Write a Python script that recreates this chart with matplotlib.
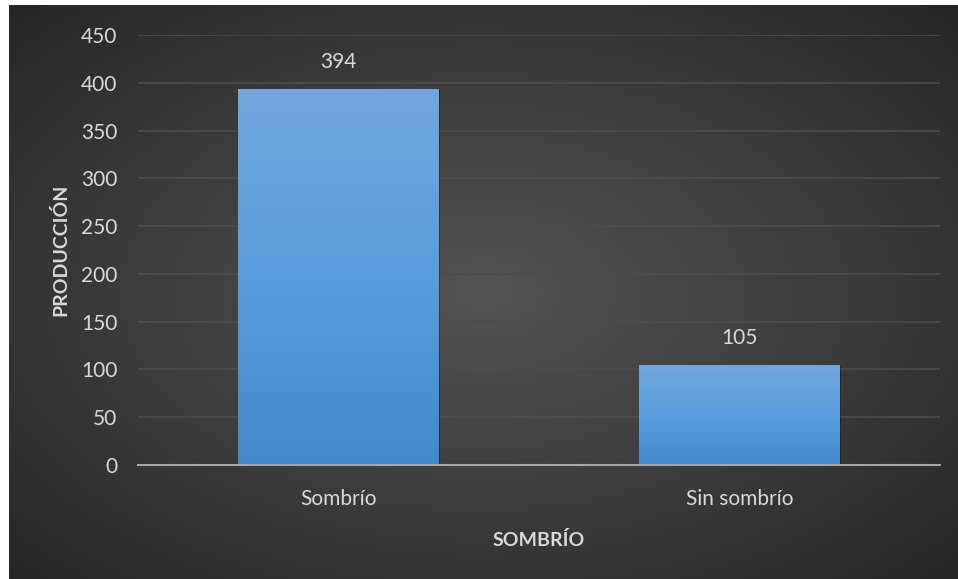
import numpy as np
import matplotlib.pyplot as plt
import matplotlib.patheffects as pe
from matplotlib.colors import LinearSegmentedColormap

plt.rcParams['font.family'] = ['Lato', 'DejaVu Sans']

categorias = ['Sombrío', 'Sin sombrío']
produccion = [394, 105]
ticks_y = [0, 50, 100, 150, 200, 250, 300, 350, 400, 450]

fig = plt.figure(figsize=(9.58, 5.79), dpi=100, facecolor='white')

# fondo oscuro con degradado radial
bg = fig.add_axes([9 / 958, 0, 949 / 958, 574 / 579])
bg.set_axis_off()
yy, xx = np.mgrid[0:1:300j, 0:1:500j]
r = np.sqrt(((xx - 0.5) / 0.75) ** 2 + ((yy - 0.5) / 0.75) ** 2)
fondo = LinearSegmentedColormap.from_list('fondo', ['#545454', '#262626'])
bg.imshow(np.clip(r / 0.95, 0, 1), cmap=fondo, aspect='auto', extent=(0, 1, 0, 1),
          vmin=0, vmax=1, interpolation='bilinear')
bg.set_xlim(0, 1)
bg.set_ylim(0, 1)

ax = fig.add_axes([138 / 958, 1 - 465 / 579, 802 / 958, (465 - 35) / 579])
ax.patch.set_alpha(0)

x = np.arange(len(categorias))
barras = ax.bar(x, produccion, width=0.5, color='#5b9bd5', zorder=3,
                path_effects=[pe.SimplePatchShadow(offset=(1, -1), shadow_rgbFace='black', alpha=0.3),
                              pe.Normal()])

# degradado vertical dentro de cada barra
azul = LinearSegmentedColormap.from_list('azul', ['#4189cc', '#5a9ddc', '#71a7dd'])
grad = np.linspace(0, 1, 256).reshape(-1, 1)
for b in barras:
    x0, y0 = b.get_x(), b.get_y()
    im = ax.imshow(grad, cmap=azul, origin='lower', aspect='auto', zorder=4,
                   extent=(x0, x0 + b.get_width(), y0, y0 + b.get_height()))
    im.set_clip_path(b)

for xi, v in zip(x, produccion):
    ax.text(xi, v + 28, str(v), ha='center', va='center', color='#d9d9d9', fontsize=15)

ax.set_xlim(-0.5, 1.5)
ax.set_ylim(0, 450)
ax.set_yticks(ticks_y)
ax.set_xticks(x)
ax.set_xticklabels(categorias)
ax.tick_params(axis='both', length=0, colors='#d9d9d9', labelsize=15)
ax.tick_params(axis='y', pad=15)
ax.tick_params(axis='x', pad=17)
ax.yaxis.grid(True, color='#4d4d4d', linewidth=1.2, zorder=0)
ax.set_axisbelow(True)
for s in ['top', 'right', 'left']:
    ax.spines[s].set_visible(False)
ax.spines['bottom'].set_color('#a6a6a6')
ax.spines['bottom'].set_linewidth(1.5)
ax.spines['bottom'].set_zorder(5)

ax.set_ylabel('PRODUCCIÓN', color='#d9d9d9', fontsize=14, fontweight='bold', labelpad=8)
ax.set_xlabel('SOMBRÍO', color='#d9d9d9', fontsize=14, fontweight='bold', labelpad=16)

fig.savefig('out.png', dpi=100, facecolor='white')
